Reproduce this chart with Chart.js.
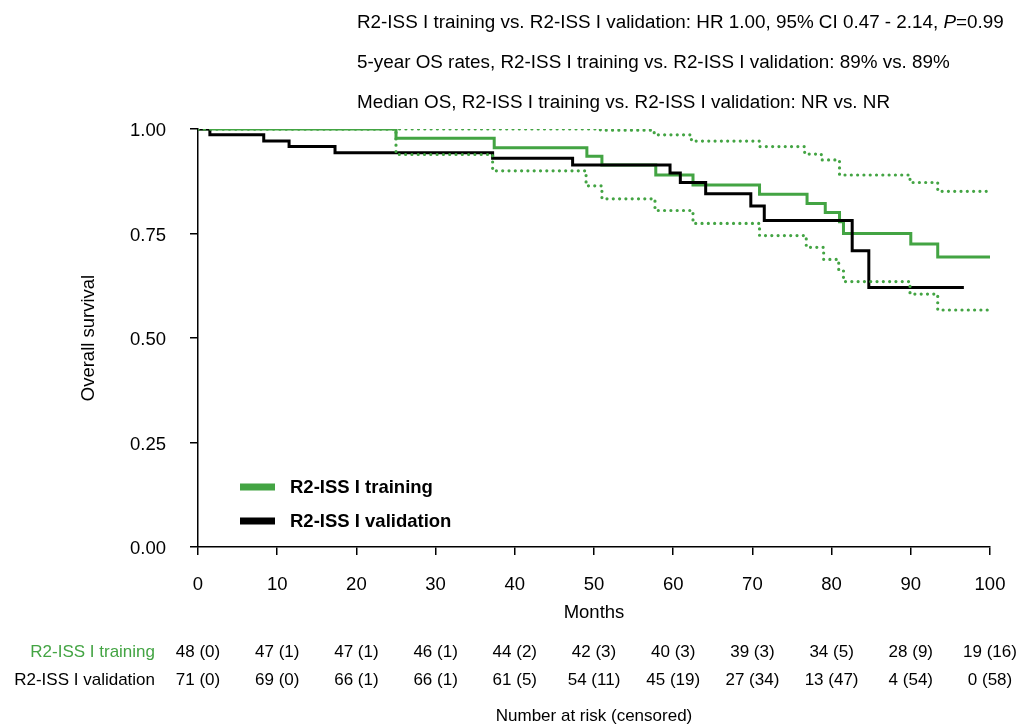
<!DOCTYPE html>
<html lang="en">
<head>
    <meta charset="UTF-8">
    <title>Overall survival - R2-ISS I training vs validation</title>
    <script src="https://cdn.jsdelivr.net/npm/chart.js"></script>
    <style>
        body, html {
            margin: 0;
            padding: 0;
            background: #fff;
        }
        #wrap {
            width: 1021px;
            height: 725px;
            position: relative;
        }
    </style>
</head>
<body>
    <div id="wrap">
        <canvas id="kmChart" width="1021" height="725"></canvas>
    </div>

    <script>
        // Kaplan-Meier steps (month, survival after the drop)
        const trainingMonths = [0, 25.0, 37.4, 49.1, 51.0, 57.8, 62.5, 70.9, 76.9, 79.2, 81.0, 81.5, 90.0, 93.4, 100];
        const trainingSurv   = [1.00, 0.978, 0.955, 0.935, 0.914, 0.890, 0.866, 0.844, 0.822, 0.800, 0.778, 0.750, 0.725, 0.694, 0.694];

        const validationMonths = [0, 1.5, 8.3, 11.5, 17.3, 37.2, 47.3, 59.6, 60.9, 64.1, 69.8, 71.5, 82.6, 84.7, 96.7];
        const validationSurv   = [1.00, 0.986, 0.971, 0.958, 0.943, 0.930, 0.914, 0.895, 0.872, 0.845, 0.816, 0.781, 0.709, 0.621, 0.621];

        // 95% CI of the training curve (dotted)
        const upperMonths = [0, 50.8, 57.6, 62.3, 70.9, 76.6, 78.7, 81.0, 89.9, 93.4, 100];
        const upperSurv   = [1.00, 0.997, 0.986, 0.971, 0.958, 0.940, 0.926, 0.890, 0.872, 0.851, 0.851];

        const lowerMonths = [0, 25.0, 37.2, 49.0, 51.0, 57.7, 62.5, 70.9, 76.8, 79.0, 80.9, 81.5, 89.9, 93.4, 100];
        const lowerSurv   = [1.00, 0.939, 0.900, 0.864, 0.833, 0.805, 0.774, 0.745, 0.717, 0.688, 0.661, 0.635, 0.605, 0.567, 0.567];

        // number at risk table
        const riskMonths = [0, 10, 20, 30, 40, 50, 60, 70, 80, 90, 100];
        const riskTraining   = ['48 (0)', '47 (1)', '47 (1)', '46 (1)', '44 (2)', '42 (3)', '40 (3)', '39 (3)', '34 (5)', '28 (9)', '19 (16)'];
        const riskValidation = ['71 (0)', '69 (0)', '66 (1)', '66 (1)', '61 (5)', '54 (11)', '45 (19)', '27 (34)', '13 (47)', '4 (54)', '0 (58)'];

        const yTicks = [0, 0.25, 0.5, 0.75, 1.0];

        const GREEN = '#43a443';
        const FONT = '"Liberation Sans", Arial, sans-serif';
        const FS = 18.5;
        const HEAD_FS = 18.85;

        function toPoints(xs, ys) {
            return xs.map((x, i) => ({ x: x, y: ys[i] }));
        }

        // Texts, legend and risk table drawn around the chart area
        const annotations = {
            id: 'annotations',
            afterDraw(chart) {
                const ctx = chart.ctx;
                const xs = chart.scales.x;
                const area = chart.chartArea;
                ctx.save();
                ctx.fillStyle = '#000';
                ctx.textBaseline = 'middle';

                // header lines
                ctx.font = HEAD_FS + 'px ' + FONT;
                ctx.textAlign = 'left';
                let line1 = 'R2-ISS I training vs. R2-ISS I validation: HR 1.00, 95% CI 0.47 - 2.14, ';
                ctx.fillText(line1, 357, 23);
                let w = ctx.measureText(line1).width;
                ctx.font = 'italic ' + HEAD_FS + 'px ' + FONT;
                ctx.fillText('P', 357 + w, 23);
                let wp = ctx.measureText('P').width;
                ctx.font = HEAD_FS + 'px ' + FONT;
                ctx.fillText('=0.99', 357 + w + wp, 23);
                ctx.fillText('5-year OS rates, R2-ISS I training vs. R2-ISS I validation: 89% vs. 89%', 357, 63);
                ctx.fillText('Median OS, R2-ISS I training vs. R2-ISS I validation: NR vs. NR', 357, 103);

                // axis titles
                ctx.font = FS + 'px ' + FONT;
                ctx.textAlign = 'center';
                ctx.fillText('Months', (area.left + area.right) / 2, 613);
                ctx.save();
                ctx.translate(89, (area.top + area.bottom) / 2);
                ctx.rotate(-Math.PI / 2);
                ctx.fillText('Overall survival', 0, 0);
                ctx.restore();

                // legend
                ctx.lineWidth = 7;
                ctx.strokeStyle = GREEN;
                ctx.beginPath(); ctx.moveTo(240, 487); ctx.lineTo(275, 487); ctx.stroke();
                ctx.strokeStyle = '#000';
                ctx.beginPath(); ctx.moveTo(240, 521); ctx.lineTo(275, 521); ctx.stroke();
                ctx.font = 'bold ' + FS + 'px ' + FONT;
                ctx.textAlign = 'left';
                ctx.fillText('R2-ISS I training', 290, 488);
                ctx.fillText('R2-ISS I validation', 290, 522);

                // number at risk
                ctx.font = '17px ' + FONT;
                ctx.textAlign = 'right';
                ctx.fillStyle = GREEN;
                ctx.fillText('R2-ISS I training', 155, 652);
                ctx.fillStyle = '#000';
                ctx.fillText('R2-ISS I validation', 155, 680);
                ctx.textAlign = 'center';
                riskMonths.forEach((m, i) => {
                    const px = xs.getPixelForValue(m);
                    ctx.fillText(riskTraining[i], px, 652);
                    ctx.fillText(riskValidation[i], px, 680);
                });
                ctx.fillText('Number at risk (censored)', (area.left + area.right) / 2, 716);
                ctx.restore();
            }
        };

        const ctx = document.getElementById('kmChart').getContext('2d');
        new Chart(ctx, {
            type: 'line',
            data: {
                datasets: [
                    {
                        label: 'Upper CI',
                        data: toPoints(upperMonths, upperSurv),
                        borderColor: GREEN,
                        borderWidth: 3.2,
                        borderDash: [0, 6.3],
                        borderCapStyle: 'round',
                        stepped: 'before',
                        pointRadius: 0,
                        fill: false
                    },
                    {
                        label: 'Lower CI',
                        data: toPoints(lowerMonths, lowerSurv),
                        borderColor: GREEN,
                        borderWidth: 3.2,
                        borderDash: [0, 6.3],
                        borderCapStyle: 'round',
                        stepped: 'before',
                        pointRadius: 0,
                        fill: false
                    },
                    {
                        label: 'R2-ISS I validation',
                        data: toPoints(validationMonths, validationSurv),
                        borderColor: '#000',
                        borderWidth: 3,
                        stepped: 'before',
                        pointRadius: 0,
                        fill: false
                    },
                    {
                        label: 'R2-ISS I training',
                        data: toPoints(trainingMonths, trainingSurv),
                        borderColor: GREEN,
                        borderWidth: 3,
                        stepped: 'before',
                        pointRadius: 0,
                        fill: false
                    }
                ]
            },
            options: {
                responsive: false,
                animation: false,
                layout: {
                    padding: { top: 129, right: 31, left: 0, bottom: 0 }
                },
                plugins: {
                    legend: { display: false },
                    tooltip: { enabled: false }
                },
                scales: {
                    x: {
                        type: 'linear',
                        min: 0,
                        max: 100,
                        afterFit(scale) {
                            scale.height = 178;
                            scale.paddingRight = 0;
                            scale.paddingLeft = 0;
                        },
                        ticks: {
                            stepSize: 10,
                            color: '#000',
                            padding: 19,
                            font: { family: FONT, size: FS }
                        },
                        grid: {
                            display: true,
                            drawOnChartArea: false,
                            drawTicks: true,
                            tickLength: 8,
                            color: '#000',
                            lineWidth: 1.5
                        },
                        border: { display: true, color: '#000', width: 1.5 }
                    },
                    y: {
                        type: 'linear',
                        min: 0,
                        max: 1,
                        afterFit(scale) { scale.width = 198; },
                        afterBuildTicks(scale) {
                            scale.ticks = yTicks.map(v => ({ value: v }));
                        },
                        ticks: {
                            color: '#000',
                            padding: 24,
                            labelOffset: 2,
                            font: { family: FONT, size: FS },
                            callback: v => Number(v).toFixed(2)
                        },
                        grid: {
                            display: true,
                            drawOnChartArea: false,
                            drawTicks: true,
                            tickLength: 8,
                            color: '#000',
                            lineWidth: 1.5
                        },
                        border: { display: true, color: '#000', width: 1.5 }
                    }
                }
            },
            plugins: [annotations]
        });
    </script>
</body>
</html>
